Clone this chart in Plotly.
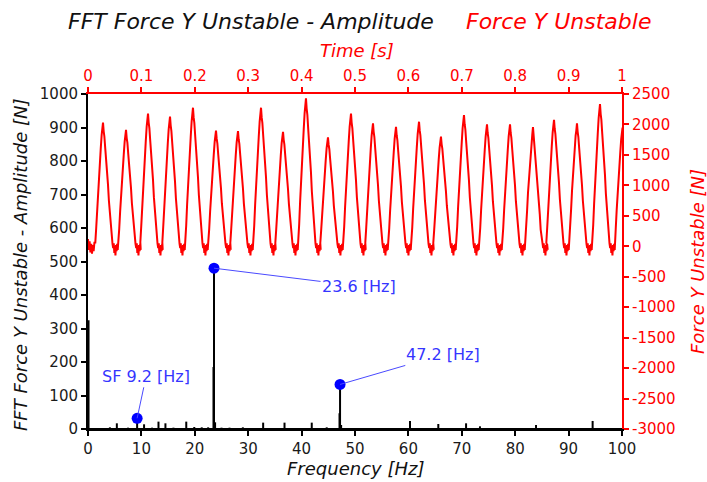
import plotly.graph_objects as go

# ---------------- data ----------------
# FFT spectrum: frequency [Hz] and amplitude [N] of the visible spikes
spec_freq = [0.1, 3.0, 4.1, 5.4, 7.5, 9.2, 10.5, 12.0, 13.2, 14.5, 16.0, 18.4, 19.9,
             21.3, 22.5, 23.5, 23.6, 23.8, 25.0, 26.5, 29.0, 31.0, 32.8, 34.5, 36.8,
             39.0, 41.9, 44.7, 47.1, 47.2, 47.4, 51.0, 56.0, 60.3, 63.0, 65.6, 68.0,
             70.8, 73.4, 78.0, 83.9, 88.0, 91.0, 94.5, 97.0]
spec_amp = [325, 3, 5, 17, 4, 32, 14, 4, 22, 17, 4, 22, 6,
            5, 5, 185, 480, 20, 4, 4, 5, 3, 19, 3, 19,
            3, 19, 5, 47, 133, 12, 3, 3, 24, 3, 15, 3,
            17, 8, 3, 12, 3, 3, 24, 3]

# labelled spectral peaks
mark_freq = [9.2, 23.6, 47.2]
mark_amp = [32, 480, 133]
mark_text = ["SF 9.2 [Hz]", "23.6 [Hz]", "47.2 [Hz]"]
mark_ax = [9, 145, 103]
mark_ay = [-42, 18, -30]

# time signal: peak times [s] and peak forces [N]
peak_time = [0.0281, 0.0712, 0.1124, 0.1536, 0.1966, 0.2397, 0.2809, 0.3240,
             0.3652, 0.4082, 0.4494, 0.4925, 0.5337, 0.5768, 0.6199, 0.6610,
             0.7041, 0.7472, 0.7903, 0.8333, 0.8727, 0.9157, 0.9588, 1.0010]
peak_force = [2030, 1910, 2180, 2130, 2275, 1900, 1890, 2275,
              1880, 2430, 1790, 2180, 2020, 1960, 2045, 1800,
              2155, 2000, 2000, 1955, 2075, 2020, 2335, 1950]
signal_freq = 23.6  # [Hz], fundamental

# pulse shape (fraction of the period, fraction of the peak)
pulse_offset = [-0.34, -0.30, -0.26, -0.22, -0.18, -0.14, -0.10, -0.06, -0.03, 0.0,
                0.03, 0.06, 0.10, 0.14, 0.18, 0.22, 0.26, 0.30, 0.34, 0.38, 0.42]
pulse_frac = [0.03, 0.15, 0.30, 0.45, 0.57, 0.71, 0.79, 0.90, 0.94, 1.0,
              0.93, 0.89, 0.79, 0.71, 0.59, 0.50, 0.37, 0.27, 0.14, 0.08, 0.02]
# noisy trough between pulses (fraction of the period, force [N])
trough_offset = [0.45, 0.475, 0.50, 0.525, 0.55, 0.575, 0.60, 0.625, 0.65]
trough_force = [-30, 50, -110, 0, -150, 20, -80, 40, -60]
# start of the record, before the first pulse
lead_time = [0.0, 0.0015, 0.003, 0.0045, 0.006, 0.0075, 0.009, 0.0105, 0.012]
lead_force = [120, -60, 80, -100, 40, -120, 20, -80, 60]

# axis tick labels
y2_ticks = [-3000, -2500, -2000, -1500, -1000, -500, 0, 500, 1000, 1500, 2000, 2500]
y2_labels = ["-3000", "-2500", "-2000", "-1500", "-1000", "-500", "0", "500",
             "1000", "1500", "2000", "2500"]

# ---------------- build traces ----------------
period = 1.0 / signal_freq
t_vals = list(lead_time)
f_vals = list(lead_force)
for tp, fp in zip(peak_time, peak_force):
    for o, fr in zip(pulse_offset, pulse_frac):
        t_vals.append(tp + o * period)
        f_vals.append(fr * fp)
    for o, v in zip(trough_offset, trough_force):
        t_vals.append(tp + o * period)
        f_vals.append(v)

stem_x, stem_y = [0, 100, None], [0, 0, None]
for f, a in zip(spec_freq, spec_amp):
    stem_x += [f, f, None]
    stem_y += [0, a, None]

FONT = "DejaVu Sans"
RED = "#ff0000"
BLUE = "#0000ff"

fig = go.Figure()
fig.add_trace(go.Scatter(x=t_vals, y=f_vals, xaxis="x2", yaxis="y2", mode="lines",
                         line=dict(color=RED, width=2), showlegend=False,
                         hoverinfo="skip"))
fig.add_trace(go.Scatter(x=stem_x, y=stem_y, mode="lines",
                         line=dict(color="black", width=2), showlegend=False,
                         hoverinfo="skip"))
fig.add_trace(go.Scatter(x=mark_freq, y=mark_amp, mode="markers",
                         marker=dict(color=BLUE, size=11), showlegend=False,
                         cliponaxis=False))

annotations = []
for f, a, txt, ax, ay in zip(mark_freq, mark_amp, mark_text, mark_ax, mark_ay):
    annotations.append(dict(x=f, y=a, xref="x", yref="y", text=txt, showarrow=True,
                            arrowhead=0, arrowwidth=1, arrowcolor="#4a4aff",
                            ax=ax, ay=ay, font=dict(family=FONT, size=16, color="#3535ff")))


def px_ann(text, x, y, size, color, xanchor="center", angle=0):
    return dict(text=text, x=(x - 88) / 534, y=(429 - y) / 335, xref="paper",
                yref="paper", showarrow=False, xanchor=xanchor, yanchor="middle",
                textangle=angle,
                font=dict(family=FONT, size=size, color=color, style="italic"))


annotations += [
    px_ann("FFT Force Y Unstable - Amplitude", 66, 21, 22, "#111111", "left"),
    px_ann("Force Y Unstable", 464, 21, 22, RED, "left"),
    px_ann("Time [s]", 357, 51, 18, RED),
    px_ann("Frequency [Hz]", 355, 469, 18, "#111111"),
    px_ann("FFT Force Y Unstable - Amplitude [N]", 20, 265, 18, "#111111", angle=-90),
    px_ann("Force Y Unstable [N]", 697, 262, 18, RED, angle=-90),
]

tick_font = dict(family=FONT, size=15, color="#1a1a1a")
red_font = dict(family=FONT, size=15, color=RED)

fig.update_layout(
    width=707, height=482,
    margin=dict(l=88, r=85, t=94, b=53),
    paper_bgcolor="white", plot_bgcolor="white",
    font=dict(family=FONT),
    annotations=annotations,
    xaxis=dict(range=[0, 100], dtick=10, tick0=0, showgrid=False, zeroline=False,
               showline=True, linecolor="black", linewidth=2, ticks="outside",
               ticklen=5, tickwidth=1.5, tickcolor="black", tickfont=tick_font,
               fixedrange=True),
    yaxis=dict(range=[0, 1000], dtick=100, tick0=0, showgrid=False, zeroline=False,
               showline=True, linecolor="black", linewidth=2, ticks="outside",
               ticklen=5, tickwidth=1.5, tickcolor="black", tickfont=tick_font,
               fixedrange=True),
    xaxis2=dict(range=[0, 1], dtick=0.1, tick0=0, overlaying="x", side="top",
                anchor="y", showgrid=False, zeroline=False, showline=True,
                linecolor=RED, linewidth=2, ticks="outside", ticklen=5,
                tickwidth=1.5, tickcolor=RED, tickfont=red_font, fixedrange=True),
    yaxis2=dict(range=[-3000, 2500], tickmode="array", tickvals=y2_ticks,
                ticktext=y2_labels, overlaying="y", side="right", anchor="x",
                showgrid=False, zeroline=False, showline=True, linecolor=RED,
                linewidth=2, ticks="outside", ticklen=5, tickwidth=1.5,
                tickcolor=RED, tickfont=red_font, fixedrange=True),
)

fig.write_html("out.html")
